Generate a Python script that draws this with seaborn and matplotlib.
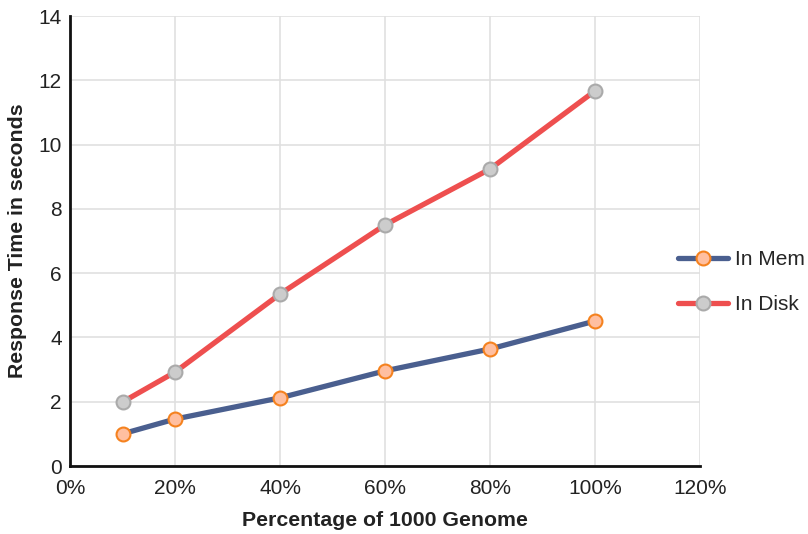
import matplotlib
matplotlib.use("Agg")
import matplotlib.pyplot as plt
import seaborn as sns
import pandas as pd
from matplotlib.ticker import FuncFormatter

pct = [0.1, 0.2, 0.4, 0.6, 0.8, 1.0]
in_mem = [1.0, 1.46, 2.12, 2.96, 3.64, 4.51]
in_disk = [1.99, 2.92, 5.35, 7.5, 9.24, 11.67]
series_names = ["In Mem", "In Disk"]

sns.set_theme(style="whitegrid")
plt.rcParams['font.family'] = ['Liberation Sans', 'DejaVu Sans']

df = pd.DataFrame({
    "pct": pct * 2,
    "value": in_mem + in_disk,
    "series": [series_names[0]] * len(pct) + [series_names[1]] * len(pct),
})

fig = plt.figure(figsize=(8.08, 5.34), dpi=100)
ax = fig.add_axes([70/808, (534-466)/534, 630/808, 450/534])

line_colors = {"In Mem": "#4a5f8f", "In Disk": "#ee4f4f"}
face = {"In Mem": "#ffbfa0", "In Disk": "#cccccc"}
edge = {"In Mem": "#f5821f", "In Disk": "#aaaaaa"}

for name in series_names:
    sub = df[df.series == name]
    sns.lineplot(data=sub, x="pct", y="value", ax=ax, color=line_colors[name],
                 linewidth=3.8, marker="o", markersize=10,
                 markerfacecolor=face[name], markeredgecolor=edge[name],
                 markeredgewidth=1.5, label=name)

ax.set_xlim(0, 1.2)
ax.set_ylim(0, 14)
ax.set_xticks([0, 0.2, 0.4, 0.6, 0.8, 1.0, 1.2])
ax.set_yticks(range(0, 15, 2))
ax.xaxis.set_major_formatter(FuncFormatter(lambda v, p: f"{round(v*100)}%"))
ax.grid(True, color="#e0e0e0", linewidth=1.2)
for s in ["top", "right"]:
    ax.spines[s].set_visible(False)
for s in ["left", "bottom"]:
    ax.spines[s].set_color("#111111")
    ax.spines[s].set_linewidth(2)
ax.tick_params(axis="x", labelsize=15, colors="#222222", length=0, pad=9)
ax.tick_params(axis="y", labelsize=15, colors="#222222", length=0, pad=6)
ax.set_xlabel("Percentage of 1000 Genome", fontsize=15.3, fontweight="bold", color="#222222", labelpad=10)
ax.set_ylabel("Response Time in seconds", fontsize=15.3, fontweight="bold", color="#222222", labelpad=8)

leg = ax.legend(loc="center left", frameon=False, borderpad=0, borderaxespad=0,
                fontsize=15, handlelength=2.4, labelspacing=1.25, handletextpad=0.35)
leg.set_bbox_to_anchor((678/808, (534-282)/534), transform=fig.transFigure)

fig.savefig("out.png", dpi=100, facecolor="white")
